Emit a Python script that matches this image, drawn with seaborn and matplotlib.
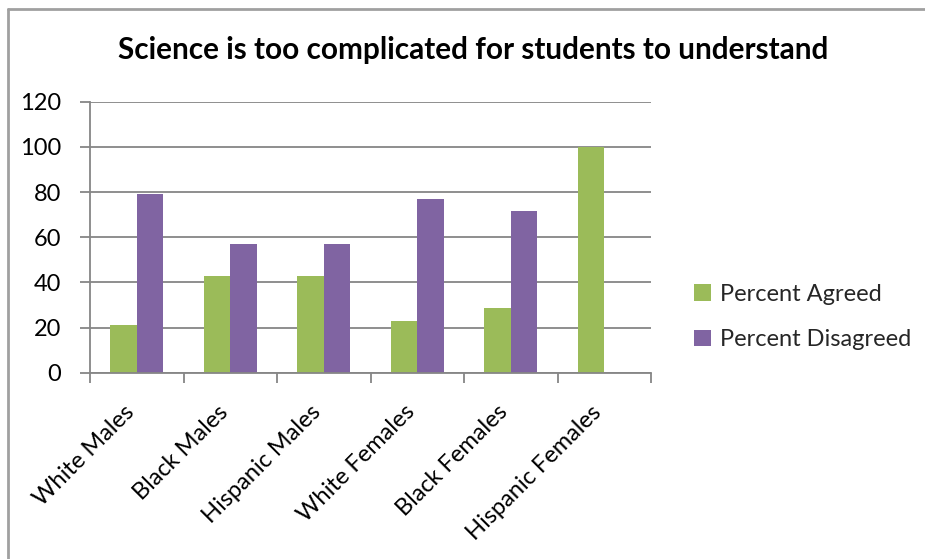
import matplotlib
matplotlib.use("Agg")
import matplotlib.pyplot as plt
import matplotlib.transforms as mtrans
import seaborn as sns
import pandas as pd
from matplotlib.patches import Patch
from matplotlib.lines import Line2D

categories = ["White Males", "Black Males", "Hispanic Males",
              "White Females", "Black Females", "Hispanic Females"]
agreed = [21.0, 42.9, 42.9, 23.1, 28.6, 100.0]
disagreed = [79.0, 57.1, 57.1, 76.9, 71.4, 0.0]
series_names = ["Percent Agreed", "Percent Disagreed"]
colors = ["#9BBB59", "#8064A2"]
yticks = [0, 20, 40, 60, 80, 100, 120]
title = "Science is too complicated for students to understand"

df = pd.DataFrame({
    "category": categories * 2,
    "series": [series_names[0]] * len(categories) + [series_names[1]] * len(categories),
    "value": agreed + disagreed,
})

sns.set_theme(style="white")
plt.rcParams["font.family"] = ["Lato", "DejaVu Sans"]

fig = plt.figure(figsize=(9.25, 5.59), dpi=100)
W, H = 925, 559
ax = fig.add_axes([90 / W, 1 - 372.7 / H, (651 - 90) / W, (372.7 - 101.7) / H])

sns.barplot(data=df, x="category", y="value", hue="series", order=categories,
            hue_order=series_names, palette=colors, width=0.57, saturation=1,
            legend=False, ax=ax, edgecolor="none")

grid_c = "#868686"
ax.set_xlim(-0.5, len(categories) - 0.5)
ax.set_ylim(0, 120)
ax.set_yticks(yticks)
ax.set_yticklabels([str(t) for t in yticks], fontsize=17, color="black")
ax.yaxis.grid(True, color=grid_c, linewidth=1.3)
ax.set_axisbelow(True)
for s in ["top", "right"]:
    ax.spines[s].set_visible(False)
for s in ["left", "bottom"]:
    ax.spines[s].set_color(grid_c)
    ax.spines[s].set_linewidth(1.3)
ax.tick_params(axis="y", which="major", length=7, width=1.3, color=grid_c,
               left=True, pad=14)

# category labels at centers, tick marks at boundaries
ax.set_xticks([i for i in range(len(categories))])
ax.set_xticklabels(categories, rotation=45, ha="right", va="center",
                   rotation_mode="anchor", fontsize=17, color="black")
ax.tick_params(axis="x", which="major", length=0, pad=26)
shift = mtrans.ScaledTranslation(-6 / 100, 0, fig.dpi_scale_trans)
for lbl in ax.get_xticklabels():
    lbl.set_transform(lbl.get_transform() + shift)
ax.set_xticks([i - 0.5 for i in range(len(categories) + 1)], minor=True)
ax.tick_params(axis="x", which="minor", length=7, width=1.3, color=grid_c, bottom=True)
ax.set_xlabel("")
ax.set_ylabel("")

fig.text(473 / W, 1 - 50 / H, title, ha="center", va="center",
         fontsize=21.4, fontweight="bold", color="black")

handles = [Patch(facecolor=c, edgecolor="none") for c in colors]
fig.legend(handles, series_names, loc="center left",
           bbox_to_anchor=(673 / W, 1 - 317 / H), frameon=False, fontsize=17,
           handlelength=0.7, handleheight=0.7, handletextpad=0.4,
           labelspacing=1.05)

# chart border (left and top)
border_c = "#A0A0A0"
fig.add_artist(Line2D([8 / W, 8 / W], [0, 1 - 9 / H], transform=fig.transFigure,
                      color=border_c, linewidth=2))
fig.add_artist(Line2D([8 / W, 1], [1 - 9 / H, 1 - 9 / H], transform=fig.transFigure,
                      color=border_c, linewidth=2))

fig.savefig("out.png", dpi=100, facecolor="white")
